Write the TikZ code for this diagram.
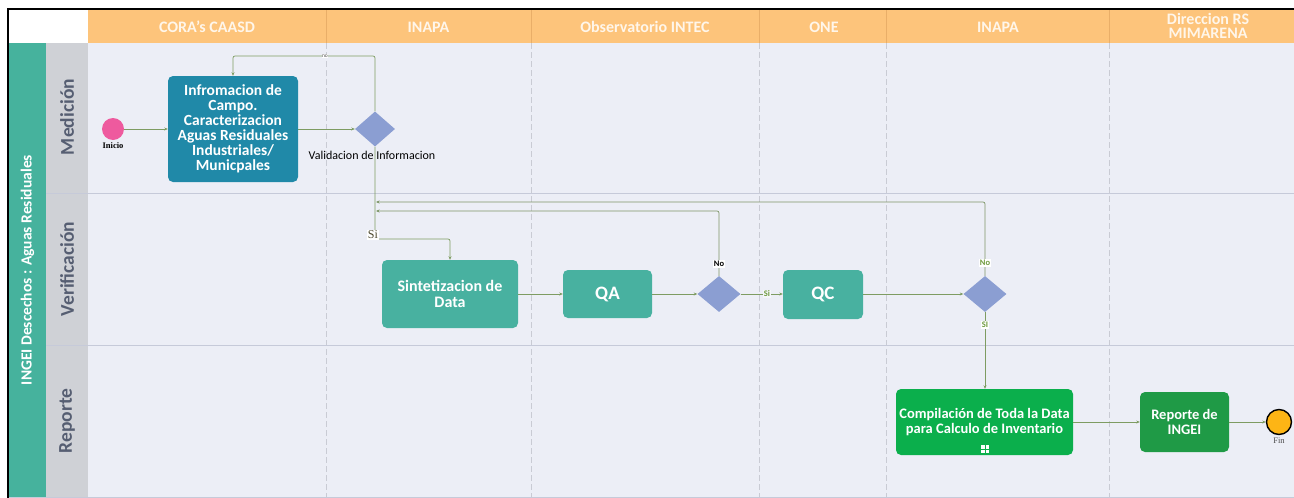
\documentclass[tikz,border=0pt]{standalone}
\usepackage{fontspec}
\setmainfont{Carlito}
\newfontfamily\seriffont{Liberation Serif}
\usetikzlibrary{shapes.geometric,arrows.meta}
\definecolor{hdr}{HTML}{FDC47B}
\definecolor{hdrline}{HTML}{E9AE68}
\definecolor{pool}{HTML}{46B29D}
\definecolor{laneband}{HTML}{CFD1D6}
\definecolor{lanebg}{HTML}{ECEEF6}
\definecolor{laneline}{HTML}{C6CAD9}
\definecolor{colsep}{HTML}{C9CBD4}
\definecolor{lanetext}{HTML}{565E72}
\definecolor{blueact}{HTML}{2089A8}
\definecolor{tealact}{HTML}{48B1A0}
\definecolor{greenact}{HTML}{0BAF4C}
\definecolor{dgreenact}{HTML}{1F9A46}
\definecolor{gateway}{HTML}{8B9ED2}
\definecolor{startc}{HTML}{EE5A9E}
\definecolor{endc}{HTML}{FDB515}
\definecolor{flowc}{HTML}{7E9C62}
\definecolor{lblc}{HTML}{6E9A3E}
\definecolor{hdrtext}{HTML}{FFF6EA}
\begin{document}
\begin{tikzpicture}[x=1pt,y=-1pt,
  act/.style={rounded corners=5pt, text=white, font=\bfseries\fontsize{15.5}{15}\selectfont, align=center, inner sep=0pt},
  gw/.style={diamond, fill=gateway, minimum width=43pt, minimum height=36pt, inner sep=0pt},
  flow/.style={draw=flowc, line width=0.7pt, rounded corners=2pt, -{Stealth[length=3.5pt,width=3pt]}},
  hdrlbl/.style={text=hdrtext, font=\bfseries\fontsize{16}{14}\selectfont, align=center},
  lanelbl/.style={rotate=90, text=lanetext, font=\bfseries\fontsize{19.5}{20}\selectfont},
  glbl/.style={font=\bfseries\fontsize{8.5}{9}\selectfont, inner sep=1pt, fill=white},
  evlbl/.style={font=\seriffont\bfseries\fontsize{8.5}{9}\selectfont, inner sep=0pt}
]
\useasboundingbox (0,0) rectangle (1294,498);
\fill[white] (0,0) rectangle (1294,498);
% lane body
\fill[lanebg] (88,43) rectangle (1294,497);
% header
\fill[hdr] (88,10) rectangle (1294,43);
% pool band & lane band
\fill[pool] (9,43) rectangle (46,497);
\fill[laneband] (46,43) rectangle (88,497);
% column separators
\foreach \cx in {326,531,759,886,1109} {
  \draw[hdrline, line width=0.8pt] (\cx,10) -- (\cx,43);
  \draw[colsep, dashed, dash pattern=on 6pt off 3pt, line width=0.6pt] (\cx,43) -- (\cx,497);
}
% lane separators
\draw[laneline, line width=1pt] (46,193) -- (1294,193);
\draw[laneline, line width=1pt] (46,345) -- (1294,345);
\draw[laneline, line width=1pt] (9,497) -- (1294,497);
% frame
\draw[black, line width=2.5pt] (8,498) -- (8,9) -- (1294,9);

% header labels
\node[hdrlbl] (h1) at (207,27) {CORA's CAASD};
\node[hdrlbl] (h2) at (428.5,27) {INAPA};
\node[hdrlbl] (h3) at (645,27) {Observatorio INTEC};
\node[hdrlbl] (h4) at (824,27) {ONE};
\node[hdrlbl] (h5) at (998,27) {INAPA};
\node[hdrlbl] (h6) at (1208,26) {Direccion RS\\MIMARENA};

% pool and lane labels
\node[rotate=90, text=white, font=\bfseries\fontsize{15.5}{16}\selectfont] (pool) at (27.5,270) {INGEI Descechos : Aguas Residuales};
\node[lanelbl] (l1) at (67,117) {Medición};
\node[lanelbl] (l2) at (67,269) {Verificación};
\node[lanelbl] (l3) at (67,421) {Reporte};

% nodes
\node[circle, fill=startc, minimum size=22pt, inner sep=0pt] (start) at (113,129) {};
\node[evlbl] (startlbl) at (113,146) {Inicio};
\node[act, fill=blueact, minimum width=130pt, minimum height=106pt] (info) at (233,129)
  {Infromacion de\\Campo.\\Caracterizacion\\Aguas Residuales\\Industriales/\\Municpales};
\node[gw, minimum width=40pt, minimum height=35pt] (d1) at (375,129) {};
\node[font=\fontsize{12}{13}\selectfont, inner sep=0pt] (d1lbl) at (372,155) {Validacion de Informacion};

\node[act, fill=tealact, minimum width=136pt, minimum height=68pt, font=\bfseries\fontsize{16}{16}\selectfont] (sint) at (450,294) {Sintetizacion de\\Data};
\node[act, fill=tealact, minimum width=89pt, minimum height=48pt, font=\bfseries\fontsize{19}{19}\selectfont] (qa) at (607.5,294) {QA};
\node[gw] (d2) at (719,294) {};
\node[act, fill=tealact, minimum width=80pt, minimum height=49pt, font=\bfseries\fontsize{19}{19}\selectfont] (qc) at (823,294.5) {QC};
\node[gw] (d3) at (985,294) {};

\node[act, fill=greenact, minimum width=177pt, minimum height=66pt] (comp) at (984.5,422) {};
\node[text=white, font=\bfseries\fontsize{14.5}{15}\selectfont, align=center, inner sep=0pt] (comptxt) at (984.5,422.5) {Compilación de Toda la Data\\para Calculo de Inventario};
\node[fill=white, minimum size=8pt, inner sep=0pt] (sub) at (985,449) {};
\draw[greenact, line width=0.8pt] (sub.north) -- (sub.south) (sub.west) -- (sub.east);
\node[act, fill=dgreenact, minimum width=89pt, minimum height=60pt, font=\bfseries\fontsize{14.5}{15}\selectfont] (rep) at (1184.5,422) {Reporte de\\INGEI};
\node[circle, fill=endc, draw=black, line width=1.4pt, minimum size=25pt, inner sep=0pt] (fin) at (1279,422) {};
\node[evlbl, font=\seriffont\fontsize{8.5}{9}\selectfont, text=black!70] (finlbl) at (1279,441) {Fin};

% helper coordinates
\coordinate (loopTop) at (375,56);
\coordinate (siCorner) at (375,239);
\coordinate (ret2) at (376,211);
\coordinate (ret3) at (376,202);

% flows
\draw[flow] (start) -- (info);
\draw[flow] (info.east |- d1) -- (d1.west);
\draw[flow] (d1.north) -- (loopTop) -| (info.north);
\node[font=\fontsize{5.5}{6}\selectfont, inner sep=0.5pt, fill=white, text=black!70] (nolbl) at (325,56) {no};
\draw[flow] (d1.south) -- (siCorner) -| (sint.north);
\node[font=\seriffont\fontsize{12}{12}\selectfont, text=black!60!olive, inner sep=0.5pt, fill=white] (silbl) at (373,235) {Si};
\draw[flow] (sint) -- (qa);
\draw[flow] (qa) -- (d2.west);
\draw[flow] (d2.east) -- (qc.west |- d2);
\node[glbl, text=lblc, fill=lanebg!50!white] (si2) at (767,294) {Si};
\draw[flow] (qc.east |- d3) -- (d3.west);
\draw[flow, draw=flowc!80!gray] (d2.north) |- (ret2);
\draw[flow, draw=flowc!80!gray] (d3.north) |- (ret3);
\node[glbl, text=black] (no2) at (719,264) {No};
\node[glbl, text=lblc] (no3) at (985,263) {No};
\draw[flow] (d3.south) -- (comp.north -| d3);
\node[glbl, text=lblc] (si3) at (985,325) {SI};
\draw[flow] (comp) -- (rep);
\draw[flow] (rep) -- (fin);
\end{tikzpicture}
\end{document}
